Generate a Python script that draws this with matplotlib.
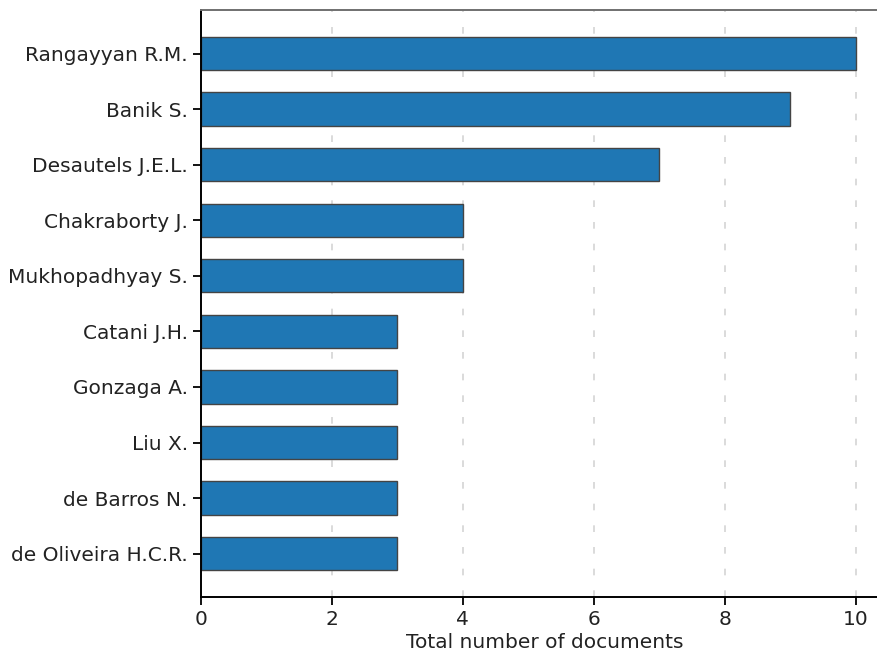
import matplotlib
matplotlib.use("Agg")
import matplotlib.pyplot as plt

authors = ["Rangayyan R.M.", "Banik S.", "Desautels J.E.L.", "Chakraborty J.",
           "Mukhopadhyay S.", "Catani J.H.", "Gonzaga A.", "Liu X.",
           "de Barros N.", "de Oliveira H.C.R."]
documents = [10, 9, 7, 4, 4, 3, 3, 3, 3, 3]

fig = plt.figure(figsize=(8.77, 6.55), dpi=100)
ax = fig.add_axes([0.229, 0.0885, 0.784, 0.896])

ypos = list(range(len(authors)))[::-1]
ax.barh(ypos, documents, height=0.6, color="#1f77b4", edgecolor="#444444", linewidth=1.0)
ax.set_yticks(ypos)
ax.set_yticklabels(authors, fontsize=14.5, color="#222222")
ax.set_xlim(0, 10.5)
ax.set_xticks([0, 2, 4, 6, 8, 10])
ax.tick_params(axis="x", labelsize=14.5, labelcolor="#222222", length=6, width=1.3)
ax.tick_params(axis="y", length=6, width=1.3)
ax.set_xlabel("Total number of documents", fontsize=14.5, color="#222222", labelpad=3)
ax.grid(axis="x", linestyle=(0, (4, 9)), color="#d4d4d4", linewidth=1.2)
ax.set_axisbelow(True)
ax.spines["right"].set_visible(False)
ax.spines["left"].set_linewidth(1.4)
ax.spines["bottom"].set_linewidth(1.4)
ax.spines["top"].set_linewidth(1.4)
ax.spines["top"].set_color("#707070")

fig.savefig("out.png", dpi=100)
